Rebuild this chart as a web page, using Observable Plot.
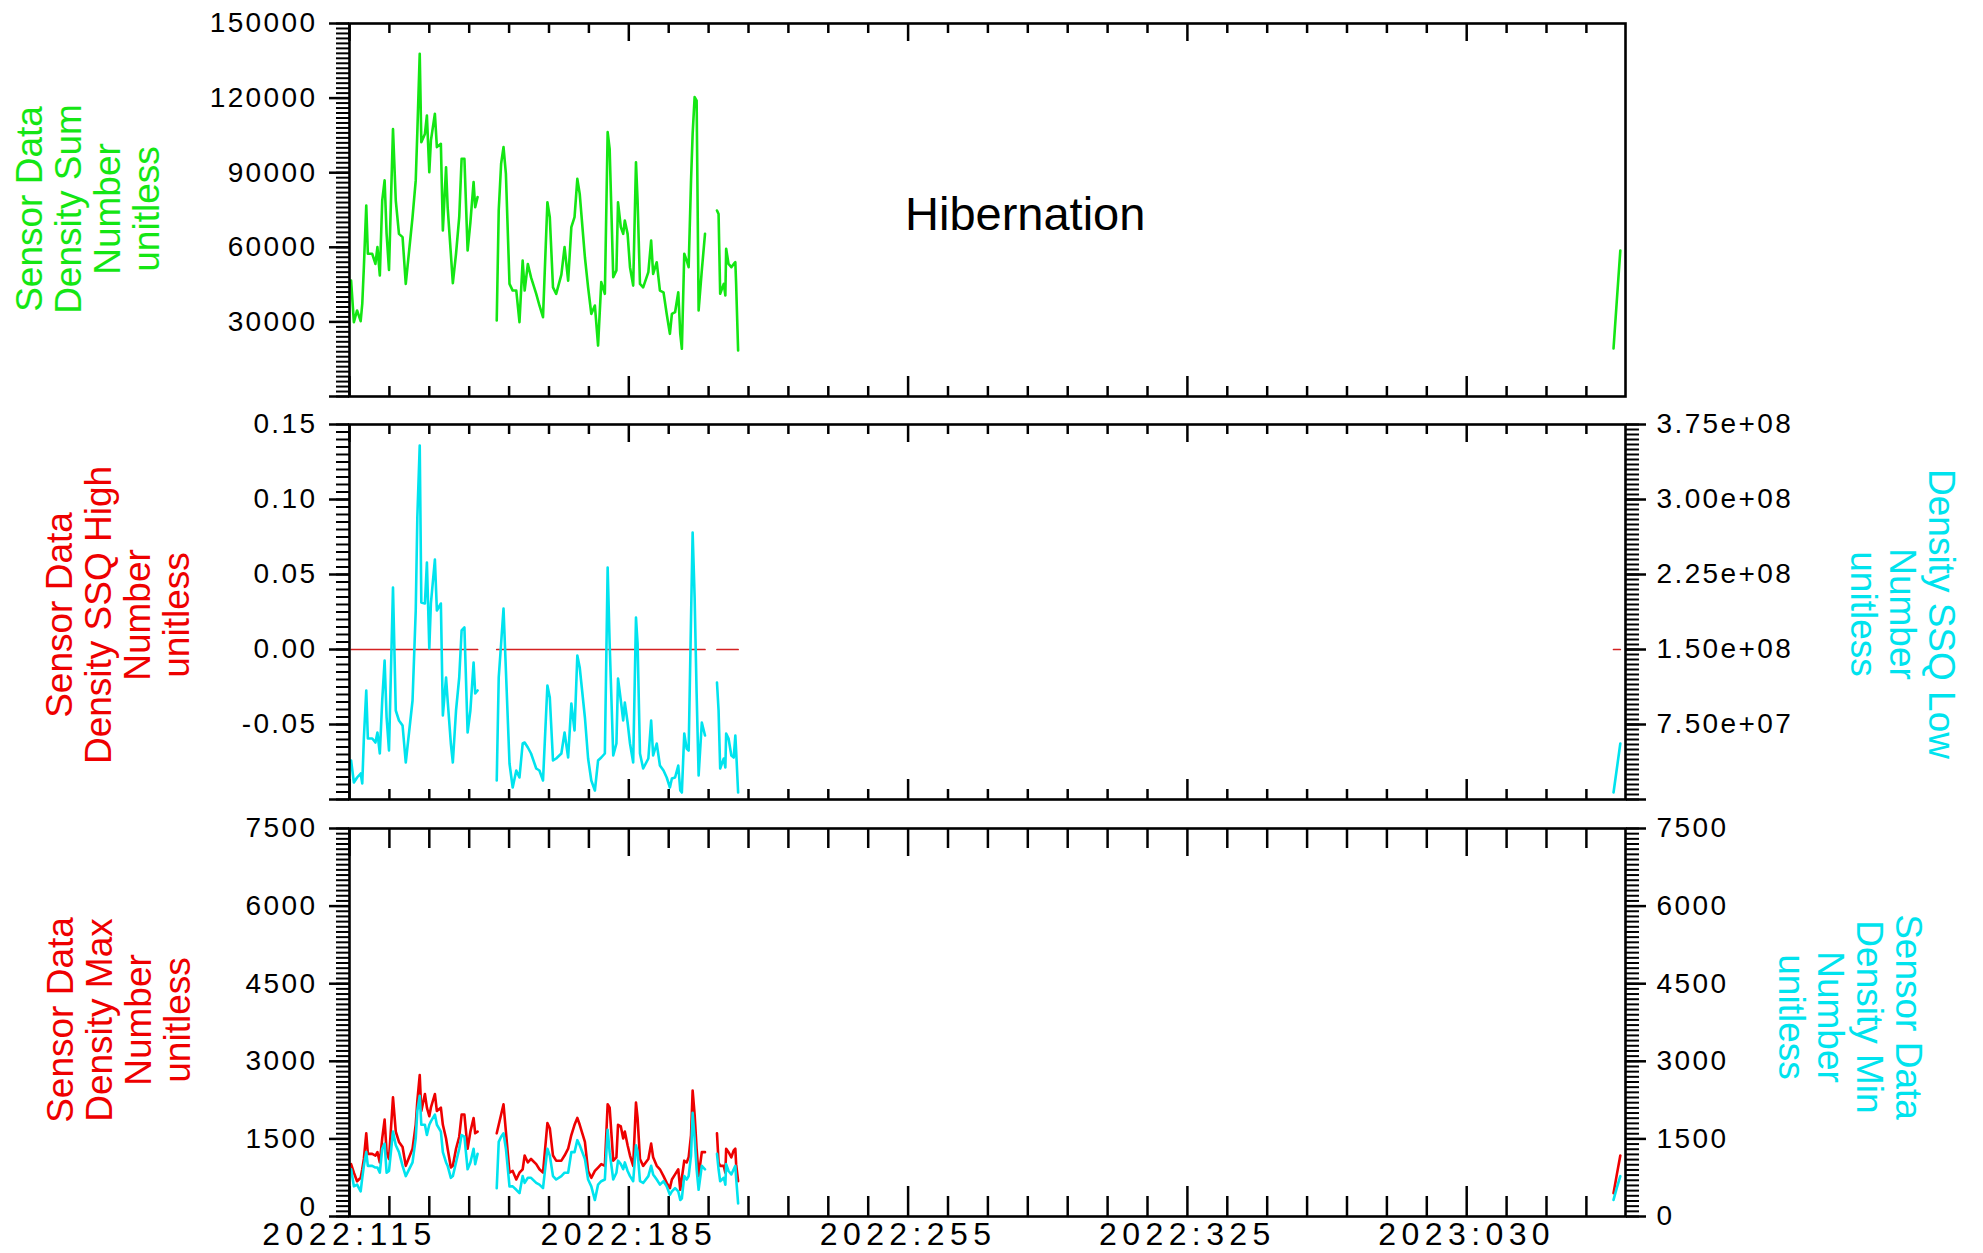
<!DOCTYPE html>
<html><head><meta charset="utf-8">
<script src="https://cdn.jsdelivr.net/npm/d3@7"></script>
<script src="https://cdn.jsdelivr.net/npm/@observablehq/plot@0.6"></script>
<style>
html,body{margin:0;padding:0;background:#fff;}
#chart{position:relative;width:1983px;height:1253px;overflow:hidden;background:#fff;font-family:"Liberation Sans",Arial,Helvetica,sans-serif;}
#chart svg{position:absolute;left:0;overflow:visible;}
.ytitle{position:absolute;white-space:nowrap;text-align:center;font-size:37px;line-height:39px;}
.rl{transform:translate(-50%,-50%) rotate(-90deg);}
.rr{transform:translate(-50%,-50%) rotate(90deg);}
#hib{position:absolute;left:905px;top:190px;font-size:47px;line-height:47px;color:#000;white-space:nowrap;}
</style></head><body><div id="chart"></div>
<script>
// ---- data (day of 2022; 2023:030 = day 395) ----
const days = [
 115.4,116.1,116.9,117.8,118.2,118.6,119.2,119.6,120.7,121.5,122.0,122.6,123.2,123.8,124.3,124.9,125.9,126.6,127.4,128.3,129.1,130.8,131.6,132.0,132.6,133.0,133.9,134.4,135.0,135.4,136.4,136.9,137.9,138.4,139.2,139.6,140.4,140.9,141.7,142.5,143.1,143.8,144.6,145.3,146.1,146.5,147.1,
 149.5,
 151.9,152.4,153.0,153.6,154.2,155.1,155.9,156.8,157.6,158.4,158.9,159.7,160.5,161.8,162.6,163.5,164.6,165.2,166.0,166.8,168.1,168.9,169.8,170.6,171.4,172.1,172.7,174.0,174.8,175.6,176.5,177.3,178.1,179.0,179.7,180.2,181.1,181.9,182.3,183.0,183.6,184.0,184.7,185.3,186.1,186.8,187.2,187.8,188.6,189.9,190.6,191.1,192.0,192.8,193.7,194.5,195.3,195.8,196.6,197.4,197.9,198.3,198.9,199.5,200.0,200.6,201.0,201.5,202.0,202.5,203.3,204.1,
 205.6,
 207.1,207.5,207.9,208.8,209.2,209.4,210.0,210.7,211.3,211.7,211.9,212.4,
 320,
 431.8,432.6,433.5
];
const densitySum = [
 46600,29900,34600,30300,37300,52000,76800,57400,57400,53300,60100,48700,78800,86900,65400,50900,107600,78800,65400,64100,45300,72100,86900,106300,137800,102300,105600,113000,90200,102900,113700,100300,101600,66800,92200,76100,57400,45600,57400,72100,95600,95600,58700,70000,86200,76100,80200,
 null,
 30600,74800,93600,100300,89500,45300,42600,42600,29900,54700,42600,53300,47900,41300,36600,31900,78100,72100,43900,41300,49000,60100,46600,68100,72100,87500,81500,56000,43900,33200,36600,20500,46000,41300,106300,99600,48000,50700,78100,68100,65400,70800,65400,52000,44600,94200,78800,45300,43900,50000,62700,49300,54000,42600,41900,33200,25200,33200,33900,41900,25200,19200,57400,54700,52000,86900,105600,120400,119000,34600,50700,65400,
 null,
 74800,73400,41300,45300,40600,59400,53300,52000,53300,54000,45300,18500,
 null,
 19300,38000,58700
];
const densitySSQLow = [
 39e6,17e6,22e6,26e6,16e6,61e6,109e6,61e6,61e6,57e6,67e6,46e6,99e6,139e6,82e6,49e6,212e6,89e6,79e6,74e6,37e6,99e6,189e6,282e6,354e6,197e6,196e6,237e6,151e6,196e6,240e6,189e6,196e6,84e6,122e6,99e6,56e6,37e6,89e6,122e6,169e6,172e6,67e6,89e6,137e6,106e6,109e6,
 null,
 19e6,122e6,156e6,191e6,129e6,36e6,12e6,29e6,22e6,56e6,57e6,52e6,46e6,31e6,29e6,19e6,114e6,102e6,39e6,41e6,46e6,67e6,42e6,96e6,69e6,144e6,132e6,82e6,41e6,19e6,9e6,39e6,42e6,46e6,232e6,156e6,44e6,56e6,121e6,99e6,79e6,97e6,77e6,56e6,37e6,182e6,156e6,46e6,31e6,41e6,79e6,44e6,56e6,34e6,29e6,22e6,12e6,21e6,22e6,34e6,9e6,7e6,66e6,51e6,49e6,182e6,267e6,202e6,106e6,24e6,77e6,64e6,
 null,
 117e6,89e6,31e6,41e6,32e6,66e6,61e6,44e6,42e6,64e6,49e6,7e6,
 null,
 7e6,30e6,56e6
];
const densityMax = [
 1012,847,682,748,913,1112,1608,1211,1211,1178,1244,1045,1509,1872,1244,1112,2302,1641,1442,1343,979,1310,1773,2236,2732,2038,2368,2104,1938,2104,2368,2038,2104,1773,1509,1310,946,979,1310,1542,1971,1971,1310,1641,1905,1608,1641,
 null,
 1608,1773,1971,2170,1641,847,880,715,847,913,1178,1045,1112,1012,913,847,1806,1707,1178,1079,1079,1178,1310,1575,1773,1905,1773,1442,880,748,880,946,1012,979,2170,2104,1079,1145,1773,1740,1509,1641,1376,1178,979,2203,1905,1112,979,1112,1409,1145,979,913,781,649,549,715,814,913,516,748,1079,1045,1145,1575,2434,1971,1310,781,1244,1244,
 null,
 1608,1045,979,979,847,1310,1244,1145,1277,1310,1012,682,
 null,
 450,800,1180
];
const densityMin = [
 913,583,616,484,748,979,1244,979,979,946,946,847,1310,1409,847,880,1641,1376,1244,979,781,1045,1509,2038,2335,1773,1773,1575,1773,1839,1971,1773,1641,1244,1045,979,748,781,1045,1310,1575,1542,913,1045,1310,1012,1211,
 null,
 549,1442,1542,1608,1310,583,583,516,451,781,649,748,748,649,616,549,1310,1178,781,715,781,847,847,1244,1244,1476,1376,1112,715,583,318,616,682,715,1674,1244,715,847,1079,1012,913,1045,880,781,682,1376,1244,682,649,781,979,814,715,616,682,583,418,484,549,484,318,351,781,715,781,1178,2005,1509,913,516,979,913,
 null,
 1211,913,682,748,616,1012,880,814,913,979,748,252,
 null,
 320,550,780
];
const ssqHighDays = [115.4,147.1,149.5,151.9,204.1,205.6,207.1,212.4,320,431.8,433.5];
const ssqHighValues = [0,0,null,0,0,null,0,0,null,0,0];

const xMajorTicks = [115,185,255,325,395];
const xTickLabels = ["2022:115","2022:185","2022:255","2022:325","2023:030"];
const sumTicks = [0,30000,60000,90000,120000,150000];
const ssqHighTicks = [-0.10,-0.05,0.00,0.05,0.10,0.15];
const ssqLowTicks = [0,7.5e7,1.5e8,2.25e8,3.0e8,3.75e8];
const maxMinTicks = [0,1500,3000,4500,6000,7500];

// ---- style ----
const GREEN = "#14e614", CYAN = "#00e3ee", RED = "#ee0000", DARKRED = "#d42222";
const FONT = '"Liberation Sans", Arial, Helvetica, sans-serif';
const W = 1983, ML = 349, MR = 358;
const X_DOMAIN = [115, 434.8];

const rows = days.map((d, i) => ({day: d, sum: densitySum[i], low: densitySSQLow[i], max: densityMax[i], min: densityMin[i]}));
const highRows = ssqHighDays.map((d, i) => ({day: d, v: ssqHighValues[i]}));

const lowToLeft = v => -0.10 + v * 0.25 / 3.75e8;
const leftToLow = y => (y + 0.10) * 1.5e9;
const fmtExp = v => v.toExponential(2).replace(/e([+-])(\d)$/, "e$10$2");

function xTickMarks(frameH) {
  const minor = d3.range(115, X_DOMAIN[1], 10).filter(d => !xMajorTicks.includes(d));
  const o = {x: d => d, stroke: "black", strokeWidth: 2.5};
  return [
    Plot.tickX(minor, {...o, insetBottom: frameH - 10}),
    Plot.tickX(minor, {...o, insetTop: frameH - 10}),
    Plot.tickX(xMajorTicks, {...o, insetBottom: frameH - 18}),
    Plot.tickX(xMajorTicks, {...o, insetTop: frameH - 20})
  ];
}
function yAxis(anchor, minor, major, fmt, padding) {
  return [
    Plot.axisY(minor, {anchor, tickSize: 13, tickFormat: () => "", strokeWidth: 2, label: null}),
    Plot.axisY(major, {anchor, tickSize: 20, tickPadding: padding, tickFormat: fmt, strokeWidth: 2.5, label: null, fontSize: 28, fill: "black"})
  ];
}
function makePlot(height, mt, mb, yDomain, marks) {
  return Plot.plot({
    width: W, height, marginLeft: ML, marginRight: MR, marginTop: mt, marginBottom: mb,
    x: {domain: X_DOMAIN, axis: null},
    y: {domain: yDomain, axis: null},
    style: {fontFamily: FONT, fontSize: "28px", background: "transparent", color: "black", overflow: "visible"},
    marks: [...marks, Plot.frame({stroke: "black", strokeWidth: 2.6})]
  });
}

const chart = document.getElementById("chart");
const LW = 2.6;

// Panel 1
const p1 = makePlot(410, 23, 14, [0, 150000], [
  ...xTickMarks(373),
  ...yAxis("left", d3.range(0, 150001, 2000), sumTicks, d => d === 0 ? "" : String(d), 12),
  Plot.line(rows, {x: "day", y: "sum", stroke: GREEN, strokeWidth: LW})
]);
p1.style.top = "0px";

// Panel 2
const p2 = makePlot(400, 14, 11, [-0.10, 0.15], [
  ...xTickMarks(375),
  ...yAxis("left", d3.range(0, 51).map(i => -0.10 + i * 0.005), ssqHighTicks, d => d < -0.09 ? "" : (Math.abs(d) < 1e-9 ? 0 : d).toFixed(2), 12),
  ...yAxis("right", d3.range(0, 76).map(i => lowToLeft(i * 5e6)), ssqLowTicks.map(lowToLeft), d => { const v = leftToLow(d); return v < 1 ? "" : fmtExp(v); }, 11),
  Plot.line(highRows, {x: "day", y: "v", stroke: DARKRED, strokeWidth: 1.7}),
  Plot.line(rows, {x: "day", y: d => d.low == null ? null : lowToLeft(d.low), stroke: CYAN, strokeWidth: LW})
]);
p2.style.top = "410px";

// Panel 3
const p3 = makePlot(443, 18, 37, [0, 7500], [
  ...xTickMarks(378),
  ...yAxis("left", d3.range(0, 7501, 100), maxMinTicks, d => String(d), 12),
  ...yAxis("right", d3.range(0, 7501, 100), maxMinTicks, d => String(d), 11),
  Plot.axisX(xMajorTicks, {anchor: "bottom", tickSize: 0, tickPadding: 6, tickFormat: d => xTickLabels[xMajorTicks.indexOf(d)], fontSize: 32, label: null, fill: "black"}),
  Plot.line(rows, {x: "day", y: "max", stroke: RED, strokeWidth: LW}),
  Plot.line(rows, {x: "day", y: "min", stroke: CYAN, strokeWidth: LW})
]);
p3.style.top = "810px";

for (const p of [p1, p2, p3]) {
  d3.select(p).selectAll("text").style("letter-spacing", "2.4px");
  chart.appendChild(p);
}
d3.select(p3).selectAll("g[aria-label='x-axis tick label'] text").style("letter-spacing", "5.4px");
// raise the left "0" label of the bottom panel a little, as in the original
d3.select(p3).selectAll("text")
  .filter(function() {
    if (this.textContent !== "0") return false;
    const b = this.getBoundingClientRect();
    return b.left < 400;
  })
  .attr("dy", "-9");

// Titles
function title(lines, color, cx, cy, cls) {
  const div = document.createElement("div");
  div.className = "ytitle " + cls;
  div.style.left = cx + "px";
  div.style.top = cy + "px";
  div.style.color = color;
  div.innerHTML = lines.join("<br>");
  chart.appendChild(div);
}
title(["Sensor Data", "Density Sum", "Number", "unitless"], GREEN, 88, 209, "rl");
title(["Sensor Data", "Density SSQ High", "Number", "unitless"], RED, 118, 615, "rl");
title(["Sensor Data", "Density Max", "Number", "unitless"], RED, 119, 1020, "rl");
title(["Density SSQ Low", "Number", "unitless"], CYAN, 1902, 614, "rr");
title(["Sensor Data", "Density Min", "Number", "unitless"], CYAN, 1850, 1017, "rr");

const hib = document.createElement("div");
hib.id = "hib";
hib.textContent = "Hibernation";
chart.appendChild(hib);
</script></body></html>
